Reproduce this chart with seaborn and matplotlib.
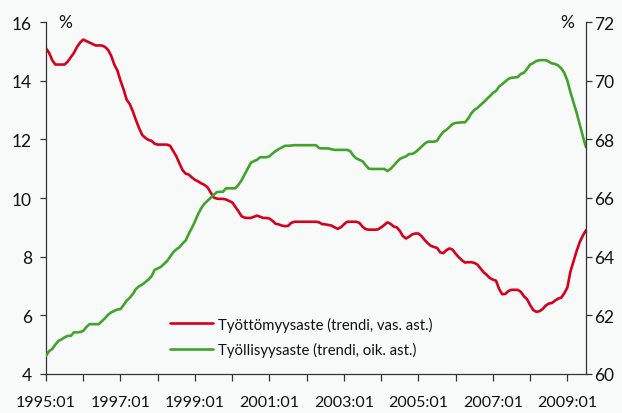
import numpy as np
import pandas as pd
import matplotlib
matplotlib.use("Agg")
import matplotlib.pyplot as plt
import seaborn as sns

# Monthly data 1995:01 .. 2009:07
unemployment = [
    15.1, 14.95, 14.7, 14.55, 14.55, 14.55, 14.55, 14.65, 14.8, 14.95, 15.15, 15.3,   # 1995
    15.4, 15.35, 15.3, 15.25, 15.2, 15.2, 15.2, 15.15, 15.05, 14.85, 14.55, 14.35,   # 1996
    14.0, 13.7, 13.35, 13.2, 12.95, 12.65, 12.38, 12.15, 12.05, 11.98, 11.95, 11.85, # 1997
    11.82, 11.82, 11.82, 11.82, 11.78, 11.6, 11.42, 11.18, 10.95, 10.83, 10.8, 10.7, # 1998
    10.62, 10.57, 10.5, 10.45, 10.37, 10.2, 10.02, 9.98, 9.97, 9.97, 9.95, 9.9,      # 1999
    9.85, 9.7, 9.55, 9.38, 9.33, 9.32, 9.32, 9.36, 9.4, 9.36, 9.32, 9.32,            # 2000
    9.3, 9.22, 9.12, 9.1, 9.06, 9.04, 9.05, 9.15, 9.19, 9.19, 9.19, 9.19,            # 2001
    9.19, 9.19, 9.19, 9.19, 9.17, 9.11, 9.1, 9.08, 9.06, 9.0, 8.95, 9.0,             # 2002
    9.1, 9.19, 9.19, 9.19, 9.19, 9.15, 9.02, 8.94, 8.92, 8.92, 8.92, 8.93,           # 2003
    9.0, 9.08, 9.17, 9.12, 9.03, 9.0, 8.88, 8.7, 8.62, 8.68, 8.76, 8.79,             # 2004
    8.79, 8.7, 8.57, 8.46, 8.37, 8.33, 8.3, 8.15, 8.12, 8.22, 8.28, 8.24,            # 2005
    8.1, 7.98, 7.88, 7.8, 7.81, 7.81, 7.79, 7.73, 7.6, 7.47, 7.38, 7.27,             # 2006
    7.22, 7.18, 6.9, 6.72, 6.73, 6.83, 6.87, 6.87, 6.87, 6.8, 6.65, 6.55,            # 2007
    6.35, 6.18, 6.12, 6.14, 6.21, 6.33, 6.4, 6.42, 6.5, 6.57, 6.6, 6.75,             # 2008
    6.95, 7.5, 7.85, 8.2, 8.5, 8.72, 8.9,                                            # 2009
]
employment = [
    60.62, 60.78, 60.85, 61.0, 61.13, 61.18, 61.25, 61.3, 61.3, 61.42, 61.42, 61.43,  # 1995
    61.47, 61.6, 61.7, 61.7, 61.7, 61.7, 61.8, 61.9, 62.02, 62.1, 62.15, 62.2,        # 1996
    62.21, 62.35, 62.5, 62.6, 62.73, 62.9, 62.99, 63.05, 63.13, 63.22, 63.33, 63.55,  # 1997
    63.6, 63.65, 63.75, 63.85, 64.0, 64.15, 64.25, 64.32, 64.45, 64.55, 64.78, 64.98, # 1998
    65.2, 65.45, 65.65, 65.8, 65.9, 66.0, 66.1, 66.2, 66.21, 66.21, 66.33, 66.33,     # 1999
    66.33, 66.33, 66.45, 66.6, 66.8, 67.0, 67.2, 67.26, 67.3, 67.39, 67.39, 67.39,    # 2000
    67.42, 67.52, 67.6, 67.67, 67.72, 67.78, 67.78, 67.79, 67.8, 67.8, 67.8, 67.8,    # 2001
    67.8, 67.8, 67.8, 67.8, 67.7, 67.69, 67.69, 67.69, 67.66, 67.64, 67.64, 67.64,    # 2002
    67.64, 67.64, 67.6, 67.45, 67.35, 67.3, 67.25, 67.12, 67.0, 66.99, 66.99, 66.99,  # 2003
    66.99, 66.99, 66.92, 66.99, 67.1, 67.22, 67.33, 67.38, 67.42, 67.5, 67.5, 67.56,  # 2004
    67.65, 67.75, 67.85, 67.92, 67.92, 67.92, 67.95, 68.12, 68.25, 68.32, 68.42, 68.52, # 2005
    68.56, 68.57, 68.58, 68.58, 68.7, 68.88, 69.0, 69.07, 69.17, 69.26, 69.37, 69.47, # 2006
    69.58, 69.65, 69.8, 69.88, 69.97, 70.06, 70.1, 70.11, 70.12, 70.23, 70.27, 70.4,  # 2007
    70.55, 70.6, 70.67, 70.7, 70.7, 70.7, 70.65, 70.59, 70.57, 70.52, 70.42, 70.27,   # 2008
    70.0, 69.6, 69.25, 68.9, 68.5, 68.1, 67.73,                                       # 2009
]
tick_labels = ["1995:01", "1997:01", "1999:01", "2001:01", "2003:01", "2005:01", "2007:01", "2009:01"]
label_unemp = "Työttömyysaste (trendi, vas. ast.)"
label_emp = "Työllisyysaste (trendi, oik. ast.)"

months = np.arange(len(unemployment))
df = pd.DataFrame({"month": months, "unemp": unemployment, "emp": employment})

sns.set_theme(style="ticks")
plt.rcParams["font.family"] = ["Lato", "DejaVu Sans"]

RED = "#d6001c"
GREEN = "#41a32b"
BG = "#f8fafa"
TXT = "#111111"

fig = plt.figure(figsize=(6.22, 4.14), dpi=100, facecolor=BG)
ax = fig.add_axes([46/622, 39/414, 540/622, 352/414])
ax.set_facecolor(BG)
ax2 = ax.twinx()

sns.lineplot(data=df, x="month", y="unemp", ax=ax, color=RED, linewidth=1.9, label=label_unemp, legend=False)
sns.lineplot(data=df, x="month", y="emp", ax=ax2, color=GREEN, linewidth=1.9, label=label_emp, legend=False)

ax.set_xlim(0, len(unemployment) - 1)
ax.set_ylim(4, 16)
ax2.set_ylim(60, 72)
ax.set_yticks([4, 6, 8, 10, 12, 14, 16])
ax2.set_yticks([60, 62, 64, 66, 68, 70, 72])
ax.set_xticks(np.arange(0, len(unemployment), 12), minor=True)
ax.set_xticks(np.arange(0, len(unemployment), 24))
ax.set_xticklabels(tick_labels)
ax.set_xlabel("")
ax.set_ylabel("")
ax2.set_ylabel("")

for a in (ax, ax2):
    a.spines["top"].set_visible(False)
    for s in ["left", "right", "bottom"]:
        a.spines[s].set_color("#333333")
        a.spines[s].set_linewidth(0.9)
ax.spines["right"].set_visible(False)
ax2.spines["left"].set_visible(False)
ax2.spines["bottom"].set_visible(False)

FS = 12.5
ax.tick_params(axis="y", direction="out", length=4, width=0.9, color="#333333", labelsize=FS, pad=6, labelcolor=TXT)
ax2.tick_params(axis="y", direction="out", length=4, width=0.9, color="#333333", labelsize=FS, pad=2, labelcolor=TXT)
ax.tick_params(axis="x", which="both", direction="out", length=5, width=0.9, color="#333333", labelsize=11.5, pad=10, labelcolor=TXT)
ax.tick_params(axis="x", which="minor", labelbottom=False)

ax.text(0.022, 1.0, "%", transform=ax.transAxes, fontsize=FS, ha="left", va="center", color=TXT)
ax2.text(0.978, 1.0, "%", transform=ax.transAxes, fontsize=FS, ha="right", va="center", color=TXT)

h1, l1 = ax.get_legend_handles_labels()
h2, l2 = ax2.get_legend_handles_labels()
leg = ax2.legend(h1 + h2, l1 + l2, loc="lower left", bbox_to_anchor=(0.205, 0.01),
                 frameon=False, fontsize=10.7, handlelength=2.9, handletextpad=0.35, labelspacing=0.7)
for t in leg.get_texts():
    t.set_color(TXT)

fig.savefig("out.png", dpi=100, facecolor=BG)
